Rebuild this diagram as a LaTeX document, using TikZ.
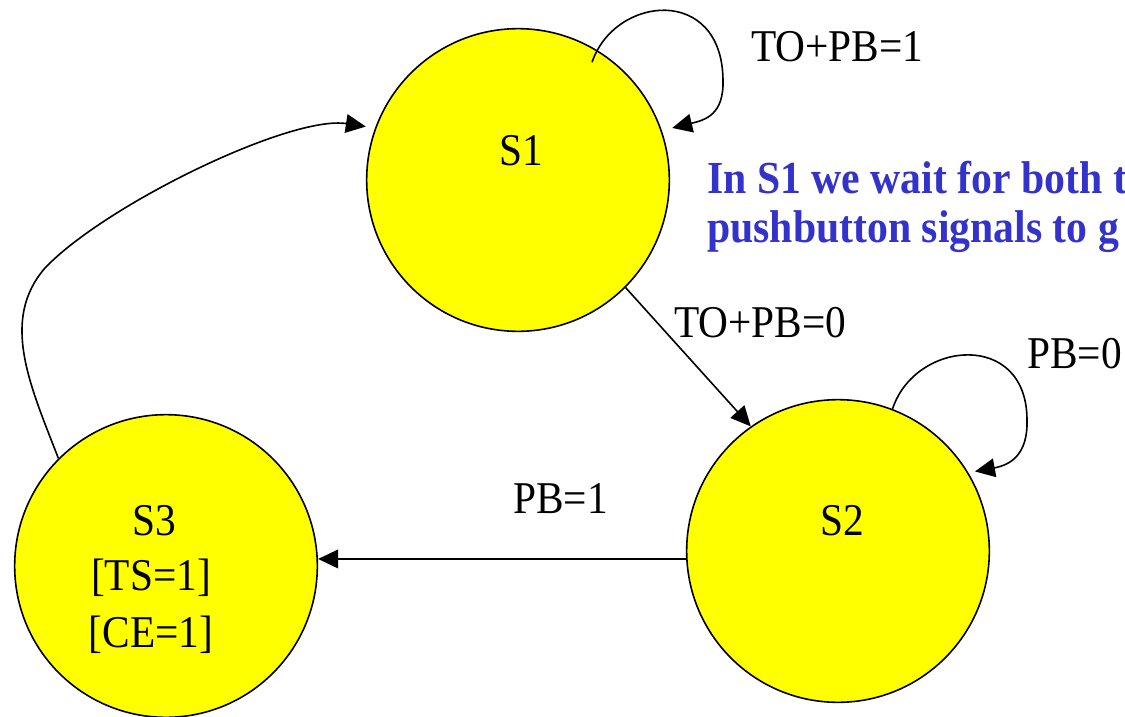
\documentclass[tikz,border=0pt]{standalone}
\usepackage{fontspec}
\setmainfont{Liberation Serif}
\usetikzlibrary{arrows.meta}
\definecolor{stateyellow}{HTML}{FFFF00}
\definecolor{noteblue}{HTML}{3333CC}
% text set slightly taller than its natural proportions
\newcommand{\tall}[1]{\scalebox{1}[1.1]{#1}}
\tikzset{
  statecircle/.style={circle, draw=black, line width=1.2pt, fill=stateyellow,
    minimum size=227pt, inner sep=0pt},
  trans/.style={draw=black, line width=1.2pt,
    -{Triangle[length=15pt,width=14pt]}},
  bigtext/.style={font=\fontsize{31}{41}\selectfont, inner sep=0pt},
  condlabel/.style={bigtext, anchor=base west},
  statename/.style={bigtext, anchor=base},
  notetext/.style={font=\fontsize{31.3}{41}\selectfont\bfseries, text=noteblue,
    inner sep=0pt, anchor=base west}
}
\begin{document}
\begin{tikzpicture}[x=0.75pt, y=-0.75pt]
  \clip (0,0) rectangle (1125,717);

  % states
  \node[statecircle] (S1) at (518,180) {};
  \node[statecircle] (S2) at (838,551) {};
  \node[statecircle] (S3) at (166,566) {};

  \node[statename] (n1) at (521,165) {\tall{S1}};
  \node[statename] (n2) at (842,535) {\tall{S2}};
  \node[statename] (n3a) at (154,535) {\tall{S3}};
  \node[statename] (n3b) at (151,590) {\tall{[TS=1]}};
  \node[statename] (n3c) at (151,647) {\tall{[CE=1]}};

  % transitions
  \draw[trans, shorten <=-10pt, shorten >=8pt] (S1.59)
    .. controls (615,-5) and (722,-15) .. (723,80)
    .. controls (724,115) and (705,120) .. (S1.19);
  \draw[trans] (S1.-45) -- (S2.125);
  \draw[trans, shorten >=5pt] (S2.69)
    .. controls (915,340) and (1027,330) .. (1027,420)
    .. controls (1028,455) and (1010,465) .. (S2.31);
  \draw[trans] (S2.183) -- (S2.183 -| S3.east);
  \draw[trans, shorten >=7pt] (S3.135)
    .. controls (30,385) and (0,320) .. (45,268)
    .. controls (105,205) and (290,115) .. (S1.160);

  % transition conditions
  \node[condlabel] (c11) at (751,62) {\tall{TO+PB=1}};
  \node[condlabel] (c12) at (674,337) {\tall{TO+PB=0}};
  \node[condlabel] (c22) at (1027,368) {\tall{PB=0}};
  \node[condlabel] (c23) at (513,513) {\tall{PB=1}};

  % note
  \node[notetext] (note1) at (707,193) {\tall{In S1 we wait for both t}};
  \node[notetext] (note2) at (707,242) {\tall{pushbutton signals to g}};
\end{tikzpicture}
\end{document}
